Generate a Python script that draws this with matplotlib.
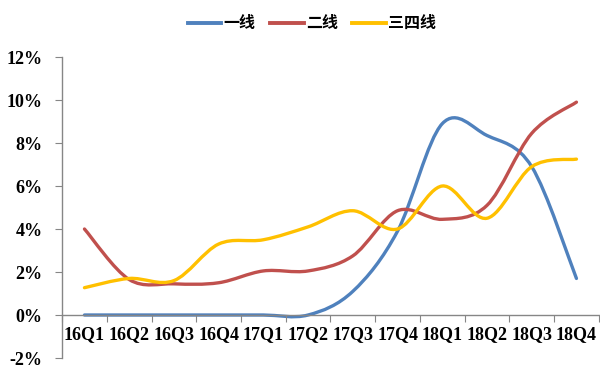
import numpy as np
import matplotlib
matplotlib.use('Agg')
import matplotlib.pyplot as plt
from matplotlib.path import Path
from matplotlib.patches import PathPatch
from matplotlib.lines import Line2D

quarters = ['16Q1', '16Q2', '16Q3', '16Q4', '17Q1', '17Q2',
            '17Q3', '17Q4', '18Q1', '18Q2', '18Q3', '18Q4']

# 房价同比（%）
tier1 = [0.0, 0.0, 0.0, 0.0, 0.0, 0.0, 1.1, 3.9, 8.9, 8.35, 6.9, 1.7]
tier2 = [4.0, 1.65, 1.45, 1.5, 2.05, 2.05, 2.75, 4.85, 4.45, 5.1, 8.45, 9.9]
tier34 = [1.27, 1.7, 1.6, 3.3, 3.5, 4.1, 4.85, 4.0, 6.0, 4.5, 6.9, 7.25]

series = [('一线', tier1, '#4F81BD'),
          ('二线', tier2, '#C0504D'),
          ('三四线', tier34, '#FFC000')]

serif = ['Liberation Serif', 'DejaVu Serif']
cjk = ['Noto Sans CJK SC', 'DejaVu Sans']


def smooth_path(x, y):
    # cubic bezier through every point, excel-style smoothed line
    pts = np.column_stack([x, y])
    n = len(pts)
    verts = [pts[0]]
    codes = [Path.MOVETO]
    for i in range(n - 1):
        p0 = pts[i - 1] if i > 0 else pts[i]
        p1 = pts[i]
        p2 = pts[i + 1]
        p3 = pts[i + 2] if i + 2 < n else pts[i + 1]
        c1 = p1 + (p2 - p0) / 6.0
        c2 = p2 - (p3 - p1) / 6.0
        verts += [c1, c2, p2]
        codes += [Path.CURVE4] * 3
    return Path(verts, codes)


fig = plt.figure(figsize=(6, 3.69), dpi=100)
ax = fig.add_axes([0.1035, 0.0298, 0.8945, 0.8157])

xs = np.arange(len(quarters)) + 0.5
for name, vals, color in series:
    patch = PathPatch(smooth_path(xs, vals), facecolor='none', edgecolor=color,
                      lw=2.4, capstyle='round', joinstyle='round')
    ax.add_patch(patch)

ax.set_xlim(0, len(quarters))
ax.set_ylim(-2, 12)

ax.spines['top'].set_visible(False)
ax.spines['right'].set_visible(False)
ax.spines['bottom'].set_position(('data', 0))
for s in ('left', 'bottom'):
    ax.spines[s].set_color('#868686')
    ax.spines[s].set_linewidth(1.0)

ax.set_yticks(np.arange(-2, 13, 2))
ax.set_yticklabels([f'{v}%' for v in range(-2, 13, 2)],
                   fontfamily=serif, fontweight='bold', fontsize=13)
ax.tick_params(axis='y', direction='out', length=5, color='#868686', pad=9)

ax.set_xticks(np.arange(0, len(quarters) + 1))
ax.set_xticklabels([])
ax.set_xticks(xs, minor=True)
ax.set_xticklabels(quarters, minor=True, fontfamily=serif,
                   fontweight='bold', fontsize=13)
ax.tick_params(axis='x', which='major', direction='out', length=5,
               color='#868686')
ax.tick_params(axis='x', which='minor', length=0, pad=8)

handles = [Line2D([], [], color=c, lw=2.8) for _, _, c in series]
fig.legend(handles, [n for n, _, _ in series], loc='center',
           bbox_to_anchor=(0.52, 0.937), ncol=3, frameon=False,
           handlelength=2.1, handletextpad=0.15, columnspacing=0.9,
           prop={'family': cjk, 'weight': 'bold', 'size': 11.5})

fig.savefig('out.png', dpi=100)
